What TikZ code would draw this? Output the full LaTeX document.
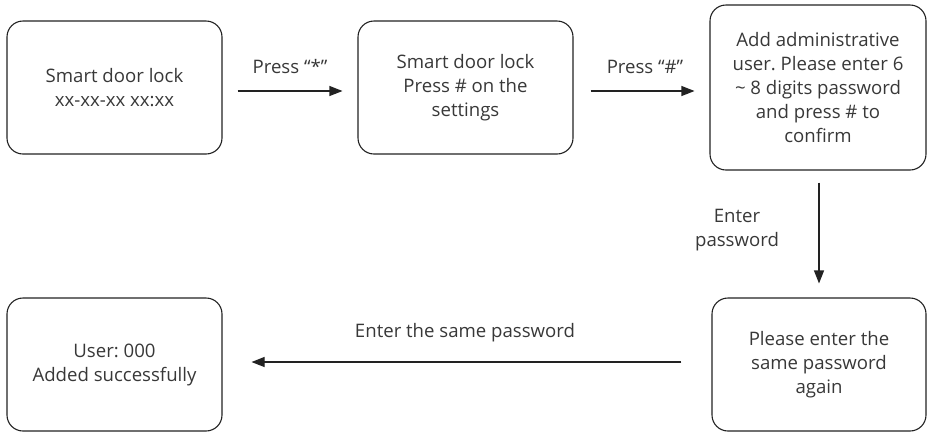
\documentclass[tikz,border=0pt]{standalone}
\usepackage{fontspec}
\setmainfont{Open Sans}
\usetikzlibrary{arrows.meta}
\definecolor{txt}{HTML}{383838}
\definecolor{ln}{HTML}{222222}
\tikzset{
  box/.style={draw=ln, line width=1.1pt, rounded corners=16pt, align=center,
    text=txt, font=\fontsize{18.6}{24}\selectfont, inner sep=0pt},
  arr/.style={draw=ln, line width=1.1pt, -{Triangle[length=13pt,width=10pt]}},
  lbl/.style={text=txt, font=\fontsize{18.6}{24}\selectfont, align=center, inner sep=0pt}
}
\frenchspacing
\begin{document}
\begin{tikzpicture}[x=1pt,y=-1pt]
\useasboundingbox (0,0) rectangle (931,432);
\node[box, minimum width=215pt, minimum height=133pt] (b1) at (114.5,87.5) {Smart door lock\\xx-xx-xx xx:xx};
\node[box, minimum width=215pt, minimum height=133pt] (b2) at (465.5,87.5) {Smart door lock\\Press \# on the\\settings};
\node[box, minimum width=216pt, minimum height=165pt] (b3) at (818,87.5) {Add administrative\\user. Please enter 6\\\textasciitilde{} 8 digits password\\and press \# to\\confirm};
\node[box, minimum width=214pt, minimum height=133pt] (b4) at (819,364.5) {Please enter the\\same password\\again};
\node[box, minimum width=215pt, minimum height=133pt] (b5) at (114.5,364.5) {User: 000\\Added successfully};

\draw[arr] ([xshift=15pt,yshift=-3.5pt]b1.east) -- ([xshift=-15pt,yshift=-3.5pt]b2.west);
\draw[arr] ([xshift=17pt,yshift=-3.5pt]b2.east) -- ([xshift=-15pt,yshift=-3.5pt]b3.west);
\draw[arr] ([xshift=1pt,yshift=-12pt]b3.south) -- ([yshift=14pt]b4.north);
\draw[arr] ([xshift=-30pt,yshift=2.5pt]b4.west) -- ([xshift=29pt,yshift=2.5pt]b5.east);

\node[lbl] (l1) at (290,67) {Press “*”};
\node[lbl] (l2) at (645,67) {Press “\#”};
\node[lbl] (l3) at (737,230) {Enter\\password};
\node[lbl] (l4) at (465,333) {Enter the same password};
\end{tikzpicture}
\end{document}
